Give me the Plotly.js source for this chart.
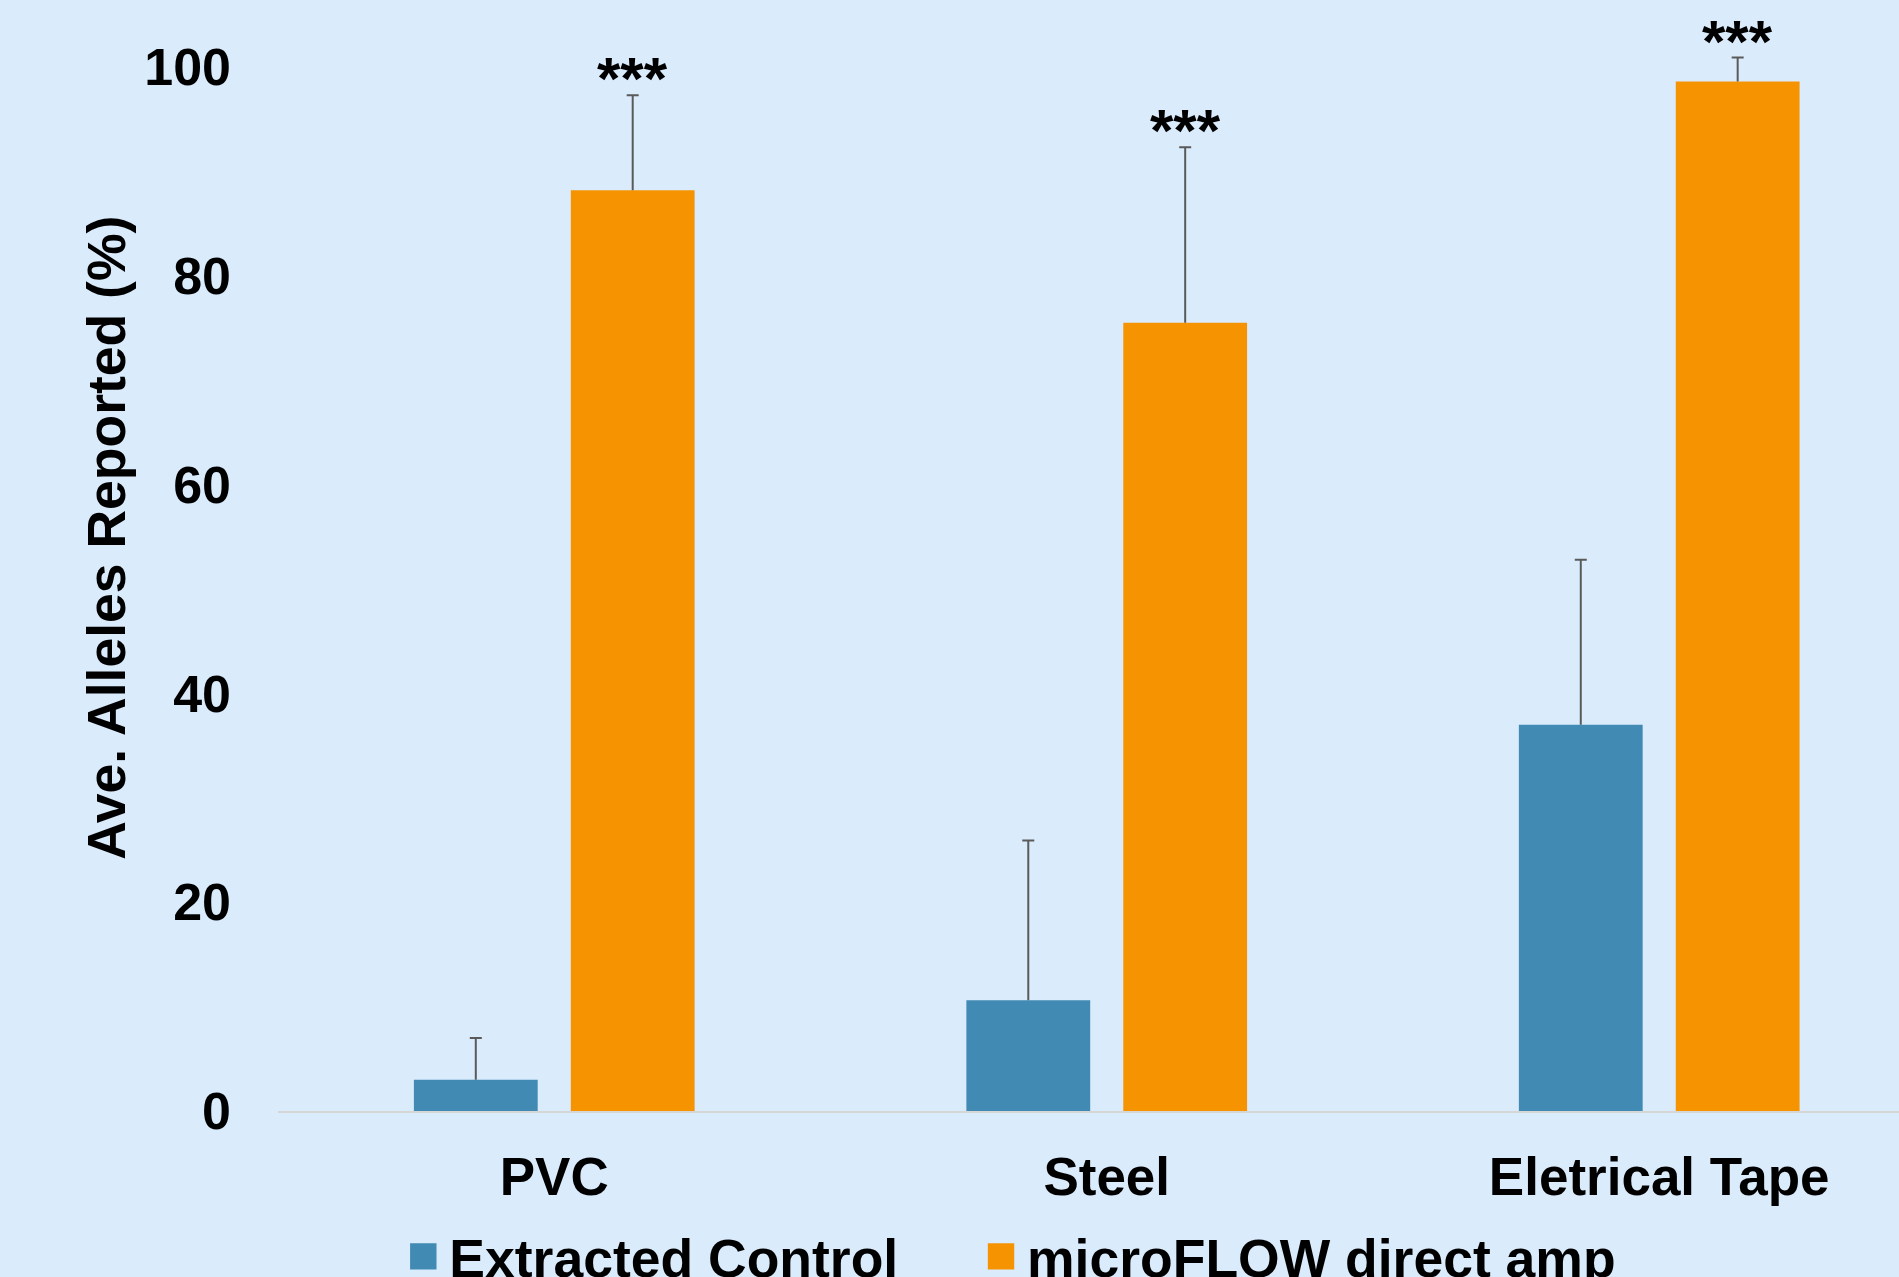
<!DOCTYPE html>
<html>
<head>
<meta charset="utf-8">
<script src="https://cdn.plot.ly/plotly-3.0.1.min.js"></script>
<style>
  html, body { margin: 0; padding: 0; background: #DAEBFC; }
  #chart { width: 1899px; height: 1277px; }
</style>
</head>
<body>
<div id="chart"></div>
<script>
// ---- data ----
const categories = ["PVC", "Steel", "Eletrical Tape"];
const seriesNames = ["Extracted Control", "microFLOW direct amp"];
const extractedValues = [3.0, 10.6, 37.0];
const extractedErrors = [4.0, 15.3, 15.8];
const microflowValues = [88.2, 75.5, 98.6];
const microflowErrors = [9.1, 16.8, 2.3];
const significance = ["***", "***", "***"];
const yTickValues = [0, 20, 40, 60, 80, 100];
const yTickLabels = ["0", "20", "40", "60", "80", "100"];
const yTitle = "Ave. Alleles Reported (%)";

const BLUE = "#418AB3";
const ORANGE = "#F59300";
const BG = "#DAEBFC";
const FONT = "Liberation Sans, Arial, sans-serif";

const W = 1899, H = 1277;
const M = { l: 278, r: 0, t: 20, b: 166 };
const xRange = [-0.5, 2.434];
const BARGAP = 0.432, BARGROUPGAP = 0.211;
// pixel offset of the 2nd bar of a group from its category centre (derived from axis scale)
const catPx = (W - M.l - M.r) / (xRange[1] - xRange[0]);
const groupOffsetPx = (1 - BARGAP) / 4 * catPx;

const errStyle = { color: "#5A5A5A", thickness: 2, width: 6 };

const traces = [
  {
    type: "bar",
    name: seriesNames[0],
    x: categories,
    y: extractedValues,
    marker: { color: BLUE },
    error_y: Object.assign({
      type: "data", symmetric: false,
      array: extractedErrors,
      arrayminus: extractedValues.map(() => 0)
    }, errStyle),
    legend: "legend",
    hoverinfo: "skip"
  },
  {
    type: "bar",
    name: seriesNames[1],
    x: categories,
    y: microflowValues,
    marker: { color: ORANGE },
    error_y: Object.assign({
      type: "data", symmetric: false,
      array: microflowErrors,
      arrayminus: microflowValues.map(() => 0)
    }, errStyle),
    legend: "legend2",
    hoverinfo: "skip"
  }
];

const annotations = categories.map((c, i) => ({
  x: c, y: microflowValues[i] + microflowErrors[i],
  xref: "x", yref: "y",
  text: significance[i],
  showarrow: false,
  xshift: groupOffsetPx,
  yanchor: "bottom",
  yshift: -19,
  font: { family: FONT, size: 60, color: "#000000", weight: "bold" }
}));

annotations.push({
  xref: "paper", yref: "paper",
  x: (106.6 - M.l) / (W - M.l - M.r), y: 0.525,
  xanchor: "center", yanchor: "middle",
  text: yTitle, textangle: -90, showarrow: false,
  font: { family: FONT, size: 53.5, color: "#000000", weight: "bold" }
});

const legendFont = { family: FONT, size: 53.5, color: "#000000", weight: "bold" };
const legendBase = {
  orientation: "h",
  xanchor: "left",
  y: -0.1335, yanchor: "middle",
  font: legendFont,
  bgcolor: "rgba(0,0,0,0)"
};

const layout = {
  width: W,
  height: H,
  paper_bgcolor: BG,
  plot_bgcolor: BG,
  margin: Object.assign({ autoexpand: false }, M),
  font: { family: FONT, size: 52, color: "#000000", weight: "bold" },
  barmode: "group",
  bargap: BARGAP,
  bargroupgap: BARGROUPGAP,
  showlegend: true,
  legend: Object.assign({ x: 0.081 }, legendBase),
  legend2: Object.assign({ x: 0.4374 }, legendBase),
  xaxis: {
    type: "category",
    range: xRange,
    showline: true, linecolor: "#D6D6D6", linewidth: 2,
    ticks: "", showgrid: false, zeroline: false,
    tickfont: { family: FONT, size: 53, color: "#000000", weight: "bold" },
    ticklabelstandoff: 18,
    fixedrange: true
  },
  yaxis: {
    range: [0, 104.5],
    tickvals: yTickValues,
    ticktext: yTickLabels,
    showline: false, showgrid: false, zeroline: false, ticks: "",
    tickfont: { family: FONT, size: 52, color: "#000000", weight: "bold" },
    ticklabelstandoff: 46,
    fixedrange: true
  },
  annotations: annotations
};

Plotly.newPlot("chart", traces, layout, { displayModeBar: false, staticPlot: true }).then(() => {
  // enlarge legend swatches and pull them slightly left of the text
  document.querySelectorAll(".legendpoints path").forEach(p => {
    const t = p.getAttribute("transform") || "";
    p.setAttribute("transform", t + " translate(-6,0) scale(2.2)");
  });
  // drop the lower cap of the one-sided error bars (it sits on the bar top)
  document.querySelectorAll(".errorbar path.yerror").forEach(p => {
    const d = p.getAttribute("d") || "";
    p.setAttribute("d", d.replace(/m-?[\d.]+,0h[\d.]+\s*$/i, ""));
  });
});
</script>
</body>
</html>
